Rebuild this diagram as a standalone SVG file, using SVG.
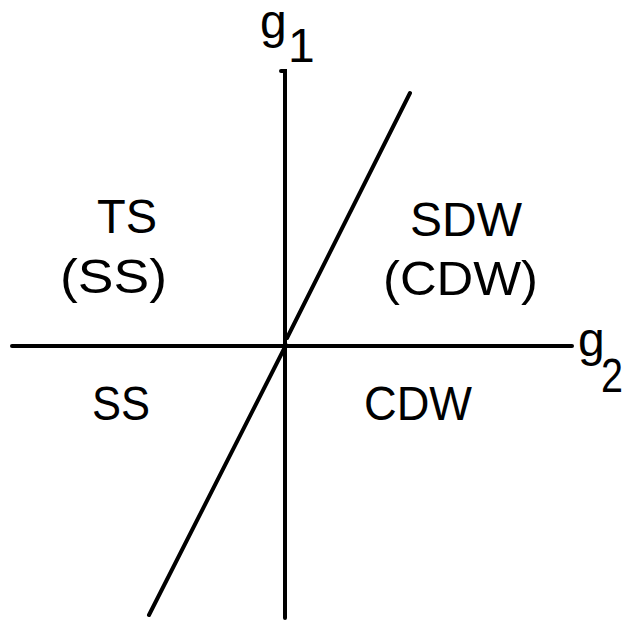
<svg xmlns="http://www.w3.org/2000/svg" width="624" height="620" viewBox="0 0 624 620">
<style>
.ax{stroke:#000;stroke-width:4;stroke-linecap:round;fill:none}
.t{font-family:"Liberation Sans","DejaVu Sans",sans-serif;font-size:48px;fill:#000}
</style>
<rect width="624" height="620" fill="#fff"/>
<g id="connectors">
<path class="ax" d="M281,71 L285,71 L285,618"/>
<path class="ax" d="M12,346 L572,346"/>
<path class="ax" d="M410,93 L287,338 M286,345 L149,615"/>
</g>
<g id="g1"><text class="t" x="260" y="38" font-size="50">g</text><text class="t" x="288" y="62" font-size="46">1</text></g>
<g id="g2"><text class="t" x="578" y="356" font-size="50">g</text><text class="t" x="601" y="392" font-size="52" textLength="22" lengthAdjust="spacingAndGlyphs">2</text></g>
<g id="TS"><text class="t" x="97" y="233" textLength="60" lengthAdjust="spacingAndGlyphs">TS</text><text class="t" x="60" y="293" textLength="107" lengthAdjust="spacingAndGlyphs">(SS)</text></g>
<g id="SDW"><text class="t" x="410" y="236" textLength="112" lengthAdjust="spacingAndGlyphs">SDW</text><text class="t" x="383" y="295" textLength="155" lengthAdjust="spacingAndGlyphs">(CDW)</text></g>
<g id="SS"><text class="t" x="92" y="420" textLength="58" lengthAdjust="spacingAndGlyphs">SS</text></g>
<g id="CDW"><text class="t" x="364" y="420" textLength="108" lengthAdjust="spacingAndGlyphs">CDW</text></g>
</svg>
